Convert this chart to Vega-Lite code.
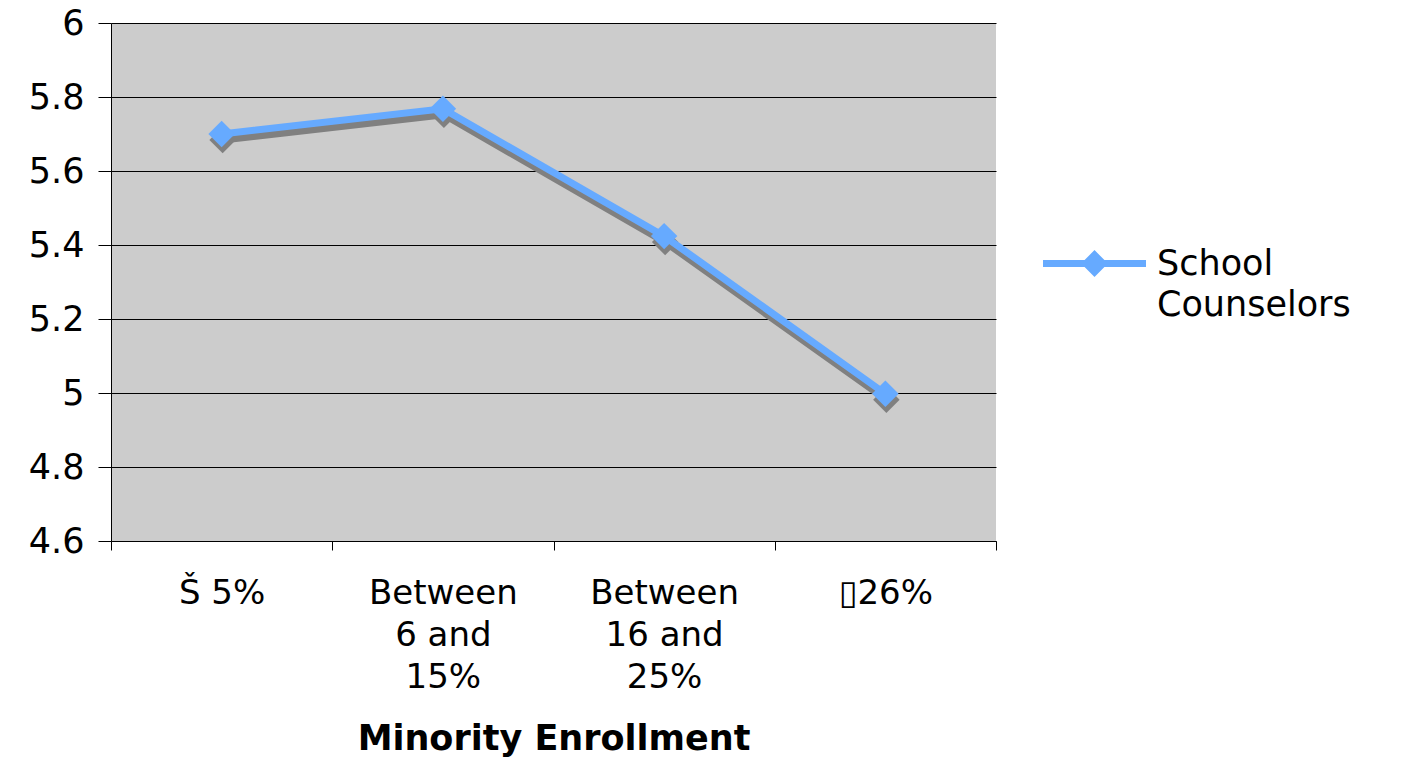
{
  "$schema": "https://vega.github.io/schema/vega-lite/v6.json",
  "width": 885,
  "height": 518,
  "autosize": {"type": "none"},
  "padding": {"left": 111, "top": 23, "right": 419, "bottom": 217},
  "background": "white",
  "config": {"view": {"fill": "#cccccc", "stroke": null}, "font": "DejaVu Sans"},
  "data": {
    "values": [
      {"cat": "Š 5%", "v": 5.7, "series": "School Counselors"},
      {"cat": "Between 6 and 15%", "v": 5.768, "series": "School Counselors"},
      {"cat": "Between 16 and 25%", "v": 5.424, "series": "School Counselors"},
      {"cat": "▯26%", "v": 4.998, "series": "School Counselors"}
    ]
  },
  "encoding": {
    "x": {
      "field": "cat",
      "type": "nominal",
      "sort": null,
      "scale": {"paddingInner": 0, "paddingOuter": 0},
      "axis": {
        "title": "Minority Enrollment",
        "titleFontSize": 35,
        "titleFontWeight": "bold",
        "titleColor": "black",
        "titlePadding": 27,
        "labelAngle": 0,
        "labelFontSize": 34,
        "labelColor": "black",
        "labelLineHeight": 42,
        "labelPadding": 26,
        "labelBaseline": "top",
        "tickBand": "extent",
        "tickSize": 9,
        "tickColor": "black",
        "domainColor": "black",
        "labelExpr": "datum.label == 'Between 6 and 15%' ? ['Between', '6 and', '15%'] : datum.label == 'Between 16 and 25%' ? ['Between', '16 and', '25%'] : datum.label"
      }
    },
    "y": {
      "field": "v",
      "type": "quantitative",
      "scale": {"domain": [4.6, 6], "nice": false, "zero": false},
      "axis": {
        "title": null,
        "values": [4.6, 4.8, 5, 5.2, 5.4, 5.6, 5.8, 6],
        "format": "~g",
        "grid": true,
        "gridColor": "black",
        "gridOpacity": 1,
        "tickSize": 13,
        "tickColor": "black",
        "domainColor": "black",
        "labelFontSize": 35,
        "labelColor": "black",
        "labelPadding": 14
      }
    }
  },
  "layer": [
    {"mark": {"type": "line", "color": "#808080", "strokeWidth": 7, "xOffset": 1, "yOffset": 6}},
    {"mark": {"type": "point", "shape": "diamond", "filled": true, "color": "#808080", "size": 700, "opacity": 1, "xOffset": 1, "yOffset": 6}},
    {
      "mark": {"type": "line", "strokeWidth": 7},
      "encoding": {
        "color": {
          "field": "series",
          "type": "nominal",
          "scale": {"range": ["#66aaff"]},
          "legend": {
            "orient": "none",
            "legendX": 932,
            "legendY": 189,
            "title": null,
            "symbolType": "M-1,-0.07 L1,-0.07 L1,0.07 L-1,0.07 Z M0,-0.26 L0.26,0 L0,0.26 L-0.26,0 Z",
            "symbolSize": 10609,
            "symbolFillColor": "#66aaff",
            "symbolStrokeWidth": 0,
            "symbolOpacity": 1,
            "labelFontSize": 35,
            "labelColor": "black",
            "labelOffset": 11,
            "labelLimit": 500,
            "labelExpr": "['School', 'Counselors']",
            "encode": {"labels": {"update": {"lineHeight": {"value": 41}}}}
          }
        }
      }
    },
    {
      "mark": {"type": "point", "shape": "diamond", "filled": true, "size": 700, "opacity": 1},
      "encoding": {"color": {"field": "series", "type": "nominal"}}
    }
  ]
}
